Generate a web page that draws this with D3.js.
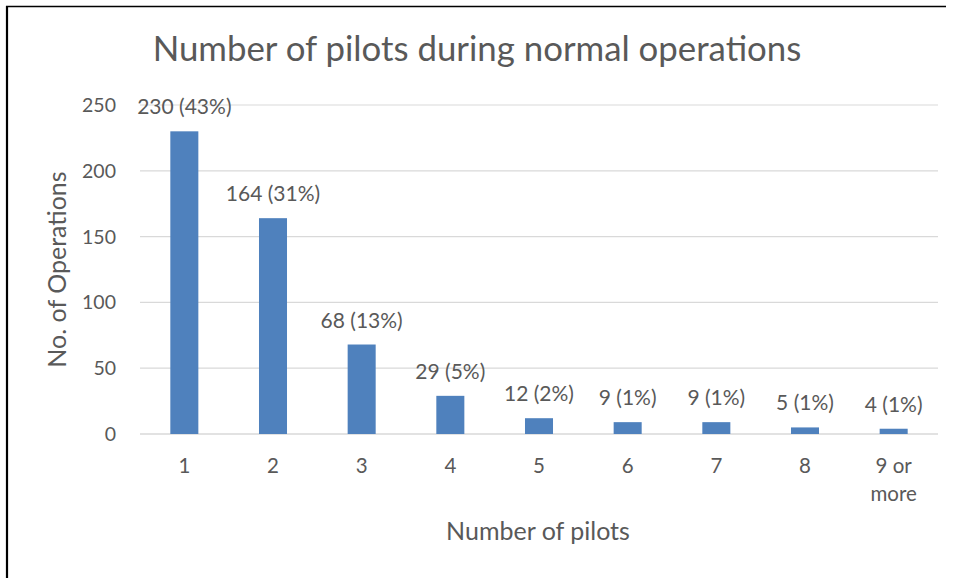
<!DOCTYPE html>
<html>
<meta charset="utf-8">
<head>
  <title>Number of pilots</title>
  <script src="https://d3js.org/d3.v7.min.js"></script>
  <style>
    body { margin: 0; background: #fff; }
    text { font-family: Lato, "Open Sans", sans-serif; fill: #595959; }
  </style>
</head>
<body>
<div id="my_dataviz"></div>
<script>

// data
var categories = ["1", "2", "3", "4", "5", "6", "7", "8", "9 or more"];
var operations = [230, 164, 68, 29, 12, 9, 9, 5, 4];
var percents = ["43%", "31%", "13%", "5%", "2%", "1%", "1%", "1%", "1%"];
var yTicks = [0, 50, 100, 150, 200, 250];

var W = 954, H = 578;
var margin = {top: 105, right: 16, bottom: 144, left: 140},
    width = W - margin.left - margin.right,
    height = H - margin.top - margin.bottom;

var svg = d3.select("#my_dataviz").append("svg")
    .attr("width", W)
    .attr("height", H);

// frame lines (top and left only are visible)
svg.append("line")
  .attr("x1", 6).attr("x2", 946).attr("y1", 6.5).attr("y2", 6.5)
  .attr("stroke", "#000").attr("stroke-width", 1.6);
svg.append("line")
  .attr("x1", 7).attr("x2", 7).attr("y1", 6).attr("y2", H)
  .attr("stroke", "#000").attr("stroke-width", 2.2);

var g = svg.append("g")
    .attr("transform", "translate(" + margin.left + "," + margin.top + ")");

var x = d3.scaleBand()
    .domain(categories)
    .range([0, width])
    .paddingInner(0.684)
    .paddingOuter(0.342);

var y = d3.scaleLinear()
    .domain([0, 250])
    .range([height, 0]);

// gridlines
g.append("g")
  .selectAll("line")
  .data(yTicks)
  .enter().append("line")
    .attr("x1", 0)
    .attr("x2", width)
    .attr("y1", function(d) { return y(d); })
    .attr("y2", function(d) { return y(d); })
    .attr("stroke", "#d9d9d9")
    .attr("stroke-width", function(d) { return d === 0 ? 1.5 : 1.2; });

// y tick labels
g.append("g")
  .selectAll("text")
  .data(yTicks)
  .enter().append("text")
    .attr("x", -24)
    .attr("y", function(d) { return y(d); })
    .attr("dy", "0.36em")
    .attr("text-anchor", "end")
    .style("font-size", "19.5px")
    .text(function(d) { return d; });

// bars
g.append("g")
  .selectAll("rect")
  .data(operations)
  .enter().append("rect")
    .attr("x", function(d, i) { return x(categories[i]); })
    .attr("y", function(d) { return y(d); })
    .attr("width", x.bandwidth())
    .attr("height", function(d) { return height - y(d); })
    .attr("fill", "#4f81bd");

// data labels
g.append("g")
  .selectAll("text")
  .data(operations)
  .enter().append("text")
    .attr("x", function(d, i) { return x(categories[i]) + x.bandwidth() / 2; })
    .attr("y", function(d) { return y(d) - 17; })
    .attr("text-anchor", "middle")
    .style("font-size", "21px")
    .text(function(d, i) { return d + " (" + percents[i] + ")"; });

// x tick labels (wrapped)
var xl = g.append("g")
  .selectAll("text")
  .data(categories)
  .enter().append("text")
    .attr("text-anchor", "middle")
    .attr("transform", function(d) {
      return "translate(" + (x(d) + x.bandwidth() / 2) + "," + (height + 39) + ")";
    })
    .style("font-size", "20.5px");
xl.each(function(d) {
  var parts = d === "9 or more" ? ["9 or", "more"] : [d];
  var t = d3.select(this);
  parts.forEach(function(p, k) {
    t.append("tspan").attr("x", 0).attr("y", k * 28).text(p);
  });
});

// axis titles
g.append("text")
  .attr("x", width / 2 - 1)
  .attr("y", height + 106)
  .attr("text-anchor", "middle")
  .style("font-size", "25px")
  .text("Number of pilots");

g.append("text")
  .attr("transform", "translate(" + (66 - margin.left) + "," + (height / 2) + ") rotate(-90)")
  .attr("text-anchor", "middle")
  .style("font-size", "25px")
  .text("No. of Operations");

// chart title
svg.append("text")
  .attr("x", 477)
  .attr("y", 61)
  .attr("text-anchor", "middle")
  .style("font-size", "34.8px")
  .text("Number of pilots during normal operations");

</script>
</body>
</html>
